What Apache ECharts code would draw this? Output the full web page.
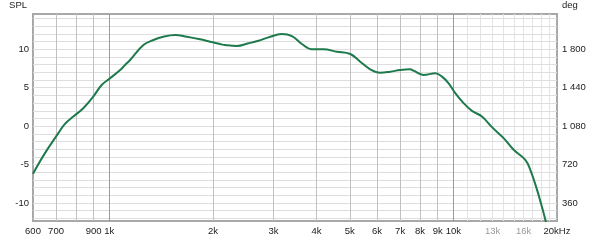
<!DOCTYPE html>
<html>
<head>
<meta charset="utf-8">
<script src="https://cdn.jsdelivr.net/npm/echarts@6/dist/echarts.min.js"></script>
<style>
html,body{margin:0;padding:0;background:#fff;}
#chart{width:600px;height:241px;}
</style>
</head>
<body>
<div id="chart"></div>
<script>
// Frequency (Hz) and SPL (dB)
var freqHz = [600,650,711,743,786,840,898,950,1005,1075,1111,1149,1256,1343,1436,1553,1679,1835,1963,2099,2170,2347,2537,2712,2900,3173,3393,3627,3879,4192,4585,5013,5359,5730,6127,6551,7003,7489,7657,8188,8856,9263,9685,10124,10705,11322,12104,12942,13993,14961,16175,16727,17494,18285,18580,18873];
var splDb = [-6.19,-3.51,-0.91,0.30,1.25,2.34,3.84,5.36,6.23,7.31,7.96,8.61,10.56,11.21,11.64,11.86,11.64,11.30,10.99,10.69,10.56,10.43,10.78,11.12,11.56,11.99,11.73,10.69,10.0,10.0,9.69,9.39,8.39,7.40,6.96,7.09,7.31,7.40,7.22,6.66,6.88,6.44,5.58,4.29,2.99,1.99,1.25,-0.13,-1.56,-3.08,-4.38,-5.68,-8.27,-11.30,-12.52,-13.5];

// Axis tick labels
var xTickHz = [600,700,900,1000,2000,3000,4000,5000,6000,7000,8000,9000,10000,13000,16000,20000];
var xTickGrey = [13000,16000];
var yTickDb = [-10,-5,0,5,10];
// right axis: degrees per dB and offset
var degPerDb = 72;
var degAtZero = 1080;

// Grid lines
var xGridMajor = [1000,10000];
var xGridMid = [700,800,900,2000,3000,4000,5000,6000,7000,8000,9000];
var xGridLight = [11000,12000,13000,14000,15000,16000,17000,18000,19000];
var yGridDb = [-12,-11,-10,-9,-8,-7,-6,-5,-4,-3,-2,-1,0,1,2,3,4,5,6,7,8,9,10,11,12,13,14];

var Y_MIN = -12.35, Y_MAX = 14.6;
var FONT = 'Liberation Sans';

function fmtHz(v){
  v = Math.round(v);
  if (v === 20000) return '20kHz';
  var s = v >= 1000 ? (v/1000) + 'k' : String(v);
  if (xTickGrey.indexOf(v) >= 0) return '{g|' + s + '}';
  return s;
}
function fmtDeg(v){
  var d = Math.round(v*degPerDb + degAtZero);
  return String(d).replace(/\B(?=(\d{3})+(?!\d))/g, ' ');
}

var lineData = freqHz.map(function(f,i){ return [f, splDb[i]]; });

var gridMarks = [];
xGridLight.forEach(function(v){ gridMarks.push({xAxis: v, lineStyle:{color:'#e4e4e4'}}); });
yGridDb.forEach(function(v){ gridMarks.push({yAxis: v, lineStyle:{color:'#dedede'}}); });
xGridMid.forEach(function(v){ gridMarks.push({xAxis: v, lineStyle:{color:'#c2c2c2'}}); });
xGridMajor.forEach(function(v){ gridMarks.push({xAxis: v, lineStyle:{color:'#9a9a9a'}}); });

var chart = echarts.init(document.getElementById('chart'), null, {renderer:'canvas'});
chart.setOption({
  animation: false,
  backgroundColor: '#ffffff',
  grid: {left: 33, right: 43, top: 14, bottom: 20, show: true, borderColor: '#a8a8a8', borderWidth: 2, backgroundColor: 'transparent'},
  xAxis: {
    type: 'log', logBase: 10, min: 600, max: 20000,
    axisLine: {show: false}, axisTick: {show: false}, splitLine: {show: false}, minorTick:{show:false}, minorSplitLine:{show:false},
    axisLabel: {
      customValues: xTickHz, formatter: fmtHz, margin: 5,
      color: '#222', fontFamily: FONT, fontSize: 9.5,
      rich: {g: {color: '#9a9a9a', fontFamily: FONT, fontSize: 9.5}}
    }
  },
  yAxis: [{
    type: 'value', min: Y_MIN, max: Y_MAX, position: 'left',
    name: 'SPL', nameLocation: 'end', nameGap: 4,
    nameTextStyle: {color: '#222', fontFamily: FONT, fontSize: 9.5, align: 'right', padding: [0, 6, 0, 0]},
    axisLine: {show: false}, axisTick: {show: false}, splitLine: {show: false},
    axisLabel: {customValues: yTickDb, margin: 4, color: '#222', fontFamily: FONT, fontSize: 9.5}
  }, {
    type: 'value', min: Y_MIN, max: Y_MAX, position: 'right',
    name: 'deg', nameLocation: 'end', nameGap: 4,
    nameTextStyle: {color: '#222', fontFamily: FONT, fontSize: 9.5, align: 'left', padding: [0, 0, 0, 5]},
    axisLine: {show: false}, axisTick: {show: false}, splitLine: {show: false},
    axisLabel: {customValues: yTickDb, margin: 5, color: '#222', fontFamily: FONT, fontSize: 9.5, formatter: fmtDeg}
  }],
  series: [{
    type: 'line', data: lineData, yAxisIndex: 0, z: 1,
    symbol: 'none', silent: true,
    lineStyle: {opacity: 0},
    markLine: {silent: true, z: 1, symbol: ['none','none'], label: {show: false}, animation: false,
      lineStyle: {type: 'solid', width: 1}, emphasis: {disabled: true}, data: gridMarks}
  }, {
    type: 'line', data: lineData, yAxisIndex: 0, z: 3,
    symbol: 'none', smooth: 0.4, clip: true,
    lineStyle: {color: '#1e7a4c', width: 2}
  }]
});
</script>
</body>
</html>
